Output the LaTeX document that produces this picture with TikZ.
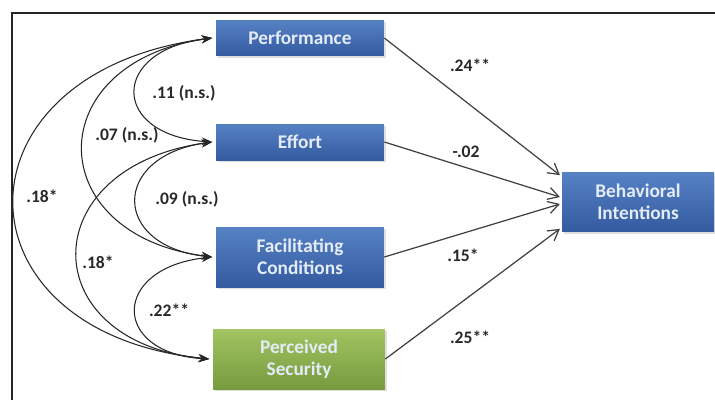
\documentclass[tikz,border=0pt]{standalone}
\usepackage{fontspec}
\setmainfont{Carlito}
\usetikzlibrary{arrows.meta,shadows}
\definecolor{bluetop}{RGB}{86,130,196}
\definecolor{bluebot}{RGB}{52,90,160}
\definecolor{greentop}{RGB}{162,196,98}
\definecolor{greenbot}{RGB}{118,154,62}
\definecolor{boxtext}{RGB}{228,236,248}
\definecolor{labeltext}{RGB}{40,40,40}
\tikzset{
  box/.style={rectangle, draw=none, top color=bluetop, bottom color=bluebot,
    text=boxtext, font=\bfseries\fontsize{11}{12.5}\selectfont, align=center,
    drop shadow={opacity=0.25, shadow xshift=1.2pt, shadow yshift=-1.2pt}},
  greenbox/.style={box, top color=greentop, bottom color=greenbot},
  cov/.style={draw=black!85, line width=0.6pt, {Stealth[length=6pt,width=4.5pt]}-{Stealth[length=6pt,width=4.5pt]}},
  reg/.style={draw=black!75, line width=0.7pt, -{Straight Barb[length=6pt,width=7pt]}},
  lbl/.style={text=labeltext, font=\bfseries\fontsize{10}{12}\selectfont, inner sep=0pt},
}
\begin{document}
\begin{tikzpicture}[x=0.02cm,y=-0.02cm]
\useasboundingbox (0,0) rectangle (715,399);
\draw[line width=1.1pt, black!85] (716,13) -- (12,13) -- (12,400);

\node[box, minimum width=3.36cm, minimum height=0.72cm] (P) at (300,38) {Performance};
\node[box, minimum width=3.36cm, minimum height=0.72cm] (E) at (300,142) {Effort};
\node[box, minimum width=3.36cm, minimum height=1.2cm] (F) at (300,257) {Facilitating\\Conditions};
\node[greenbox, minimum width=3.44cm, minimum height=1.2cm] (S) at (299,359) {Perceived\\Security};
\node[box, minimum width=3.04cm, minimum height=1.2cm] (B) at (638,202) {Behavioral\\Intentions};

% covariances
\draw[cov] ([xshift=-2pt]P.west) .. controls (110,50) and (110,135) .. ([xshift=-2pt]E.west);
\draw[cov] ([xshift=-2pt]P.west) .. controls (40,62) and (40,235) .. ([xshift=-2pt]F.west);
\draw[cov] ([xshift=-2pt]P.west) .. controls (-51,72) and (-51,332) .. ([xshift=-2pt]S.west);
\draw[cov] ([xshift=-2pt]E.west) .. controls (111,156) and (111,246) .. ([xshift=-2pt]F.west);
\draw[cov] ([xshift=-2pt]E.west) .. controls (33,167) and (33,342) .. ([xshift=-2pt]S.west);
\draw[cov] ([xshift=-2pt]F.west) .. controls (111,268) and (111,353) .. ([xshift=-2pt]S.west);

\node[lbl] (l1) at (184,93) {.11 (n.s.)};
\node[lbl] (l2) at (127,135) {.07 (n.s.)};
\node[lbl] (l3) at (42,196) {.18*};
\node[lbl] (l4) at (187,199) {.09 (n.s.)};
\node[lbl] (l5) at (98,262) {.18*};
\node[lbl] (l6) at (169,310) {.22**};

% regressions
\draw[reg] (P.east) -- ([xshift=-1pt,yshift=-2pt]B.north west);
\draw[reg] (E.east) -- ([xshift=-1pt,yshift=0.1cm]B.west);
\draw[reg] (F.east) -- ([xshift=-1pt,yshift=-0.04cm]B.west);
\draw[reg] (S.east) -- ([xshift=-1pt,yshift=2pt]B.south west);

\node[lbl] (r1) at (470,65) {.24**};
\node[lbl] (r2) at (466,152) {-.02};
\node[lbl] (r3) at (463,255) {.15*};
\node[lbl] (r4) at (470,337) {.25**};
\end{tikzpicture}
\end{document}
